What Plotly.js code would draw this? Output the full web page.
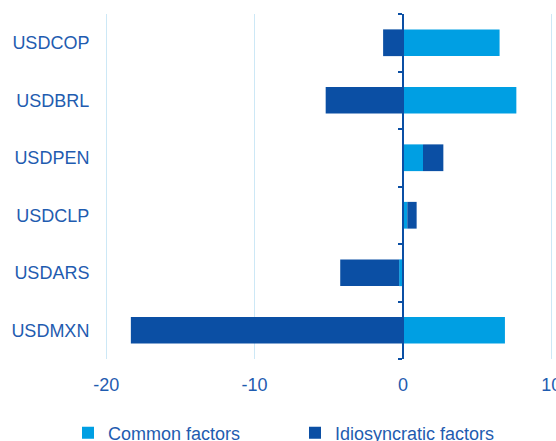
<!DOCTYPE html>
<html>
<head>
<meta charset="utf-8">
<script src="https://cdn.plot.ly/plotly-3.0.1.min.js"></script>
<style>html,body{margin:0;padding:0;background:#fff;}#chart{width:556px;height:441px;}</style>
</head>
<body>
<div id="chart"></div>
<script>
// Categories listed bottom to top
const currencies = ["USDMXN", "USDARS", "USDCLP", "USDPEN", "USDBRL", "USDCOP"];
const commonFactors = [6.87, -0.26, 0.29, 1.35, 7.64, 6.51];
const idiosyncraticFactors = [-18.34, -3.97, 0.63, 1.37, -5.21, -1.34];
const xTicks = [-20, -10, 0, 10];

const xRange = [-20.42, 10.11];
const zeroPos = (0 - xRange[0]) / (xRange[1] - xRange[0]);

const textColor = "#1f5cb0";
const fontFam = "Liberation Sans, Arial, sans-serif";

const traces = [
  {type: "bar", orientation: "h", name: "Common factors", y: currencies, x: commonFactors,
   marker: {color: "#009fe3"}, hoverinfo: "x+name"},
  {type: "bar", orientation: "h", name: "Idiosyncratic factors", y: currencies, x: idiosyncraticFactors,
   marker: {color: "#0b4fa4"}, hoverinfo: "x+name"},
  {type: "scatter", mode: "markers", y: currencies, x: commonFactors, yaxis: "y2",
   marker: {opacity: 0}, showlegend: false, hoverinfo: "skip"}
];

const layout = {
  width: 556, height: 441,
  margin: {l: 100, r: 3, t: 14, b: 82},
  paper_bgcolor: "#fff", plot_bgcolor: "#fff",
  barmode: "relative",
  bargap: 0.535,
  font: {family: fontFam, size: 18, color: textColor},
  showlegend: true,
  xaxis: {range: xRange, tickvals: xTicks, ticktext: xTicks.map(String),
          showgrid: true, gridcolor: "#cde8f6", gridwidth: 1,
          zeroline: false, showline: false,
          ticks: "outside", ticklen: 9, tickcolor: "rgba(0,0,0,0)",
          ticklabeloverflow: "allow",
          tickfont: {size: 18, color: textColor}, automargin: false},
  yaxis: {type: "category", categoryarray: currencies, categoryorder: "array",
          range: [-0.5, currencies.length - 0.5],
          showgrid: false, zeroline: false, showline: false,
          ticks: "outside", ticklen: 6, tickcolor: "rgba(0,0,0,0)",
          tickfont: {size: 18, color: textColor}, automargin: false},
  yaxis2: {type: "category", categoryarray: currencies, categoryorder: "array",
           range: [-0.5, currencies.length - 0.5],
           overlaying: "y", anchor: "free", position: zeroPos, side: "left",
           showline: true, linecolor: "#0b4fa4", linewidth: 2,
           ticks: "outside", tickson: "boundaries", ticklen: 4, tickwidth: 2, tickcolor: "#0b4fa4",
           showticklabels: false, showgrid: false, zeroline: false},
  legend: {orientation: "h", xref: "container", x: 0.1223, xanchor: "left",
           yref: "container", y: 0.018, yanchor: "middle",
           font: {size: 18, color: textColor}, entrywidth: 182, entrywidthmode: "pixels",
           bgcolor: "rgba(0,0,0,0)", traceorder: "normal"}
};

Plotly.newPlot("chart", traces, layout, {displayModeBar: false, staticPlot: true});
</script>
</body>
</html>
